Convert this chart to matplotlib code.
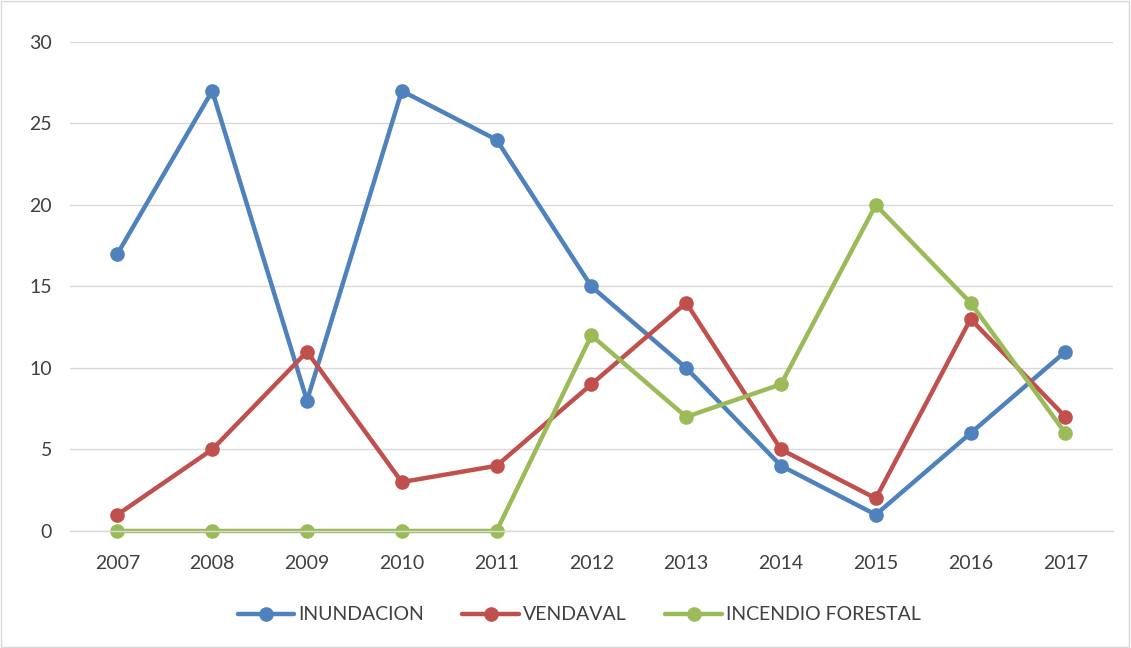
import matplotlib
matplotlib.use("Agg")
import matplotlib.pyplot as plt
import numpy as np

years = ["2007", "2008", "2009", "2010", "2011", "2012", "2013", "2014", "2015", "2016", "2017"]
inundacion = [17, 27, 8, 27, 24, 15, 10, 4, 1, 6, 11]
vendaval = [1, 5, 11, 3, 4, 9, 14, 5, 2, 13, 7]
incendio = [0, 0, 0, 0, 0, 12, 7, 9, 20, 14, 6]
series_labels = ["INUNDACION", "VENDAVAL", "INCENDIO FORESTAL"]

plt.rcParams["font.family"] = ["Lato", "DejaVu Sans"]

fig = plt.figure(figsize=(11.31, 6.48), dpi=100)
ax = fig.add_axes([0.0619, 0.1806, 0.922, 0.7546])

x = np.arange(len(years))
colors = ["#4F81BD", "#C0504D", "#9BBB59"]
for vals, label, color in zip([inundacion, vendaval, incendio], series_labels, colors):
    ax.plot(x, vals, "-o", color=color, label=label, linewidth=3.2,
            markersize=9.5, solid_capstyle="round", clip_on=False)

ax.set_xlim(-0.5, len(years) - 0.5)
ax.set_ylim(0, 30)
ax.set_yticks(range(0, 31, 5))
ax.set_xticks(x)
ax.set_xticklabels(years)
ax.tick_params(axis="both", length=0, labelsize=14, colors="#404040")
ax.tick_params(axis="y", pad=13)
ax.tick_params(axis="x", pad=17)
ax.grid(True, axis="y", color="#D9D9D9", linewidth=1)
ax.set_axisbelow(True)
for side in ["top", "right", "left"]:
    ax.spines[side].set_visible(False)
ax.spines["bottom"].set_color("#D9D9D9")
ax.spines["bottom"].set_linewidth(1)

fig.legend(loc="center", bbox_to_anchor=(0.512, 0.051), ncol=3, frameon=False,
           fontsize=14, handlelength=2.9, columnspacing=2.0, handletextpad=0.2,
           labelcolor="#404040")

fig.patches.append(plt.Rectangle((0.001, 0.001), 0.997, 0.997, transform=fig.transFigure,
                                 fill=False, edgecolor="#D9D9D9", linewidth=1))

fig.savefig("out.png", dpi=100)
